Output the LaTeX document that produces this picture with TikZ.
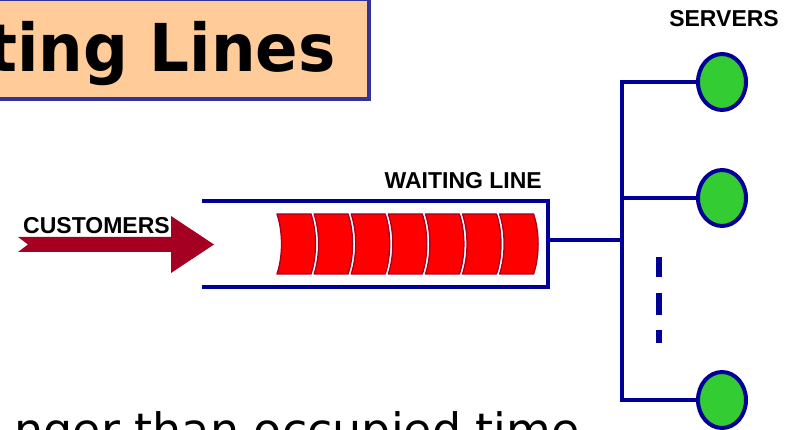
\documentclass[tikz,border=0pt]{standalone}
\usepackage{fontspec}
\newfontfamily\labfont{Liberation Sans}
\newfontfamily\dvfont{DejaVu Sans}
\usetikzlibrary{shapes.geometric}
\definecolor{qblue}{HTML}{000099}
\definecolor{tblue}{HTML}{333399}
\definecolor{peach}{HTML}{FFCC99}
\definecolor{darkred}{HTML}{A50021}
\definecolor{sgreen}{HTML}{33CC33}
\tikzset{
  lab/.style={inner sep=0pt, font=\labfont\bfseries\fontsize{23}{23}\selectfont},
  wire/.style={draw=qblue, line width=4pt},
  server/.style={ellipse, draw=qblue, line width=4pt, fill=sgreen, minimum width=48pt, minimum height=56pt, inner sep=0pt},
  cell/.style={fill=red, draw=darkred, line width=1.3pt, line join=round},
  dashseg/.style={draw=qblue, line width=5.5pt}
}
\begin{document}
\begin{tikzpicture}[x=1pt,y=-1pt]
\useasboundingbox (0,0) rectangle (792,430);
\begin{scope}
\clip (0,0) rectangle (792,430);
% title
\draw[fill=peach, draw=tblue, line width=4pt] (-20,-1) rectangle (368.5,99);
\node[inner sep=0pt, anchor=base east, font=\dvfont\bfseries\fontsize{66}{66}\selectfont] (title) at (336,72) {\scalebox{0.95}[1]{ting Lines}};
% bottom text
\node[inner sep=0pt, anchor=base east, font=\dvfont\fontsize{46}{46}\selectfont] (bottom) at (580,446) {nger than occupied time};
\end{scope}
% customers arrow
\fill[darkred] (18,237) -- (171,237) -- (171,216) -- (214,244.5) -- (171,273) -- (171,252) -- (18,252) -- (28,244.5) -- cycle;
\node[lab, anchor=base west] (cust) at (23,234) {CUSTOMERS};
% waiting line box
\coordinate (qtl) at (202,201);
\coordinate (qtr) at (548,201);
\coordinate (qbr) at (548,287);
\coordinate (qbl) at (202,287);
\coordinate (qout) at (548,240);
\draw[wire, line join=miter] (qtl) -- (qtr) -- (qbr) -- (qbl);
\node[lab, anchor=base east] (wl) at (542,189) {WAITING LINE};
% cells
\foreach \i in {0,...,6}{
  \pgfmathsetmacro{\xa}{277+37.1*\i}
  \draw[cell] (\xa,214) -- (\xa+34,214) .. controls (\xa+40,232) and (\xa+40,256) .. (\xa+34,274) -- (\xa,274) .. controls (\xa+6,256) and (\xa+6,232) .. (\xa,214) -- cycle;
}
% servers
\node[server] (s1) at (722,82) {};
\node[server] (s2) at (722,198) {};
\node[server] (s3) at (722,400) {};
\node[lab, anchor=base east] (srv) at (779,27) {SERVERS};
\coordinate (bus) at (622,240);
\coordinate (b1) at (622,82);
\coordinate (b2) at (622,198);
\coordinate (b3) at (622,400);
\draw[wire] (qout) -- (bus);
\draw[wire, line join=miter] (s1.west) -- (b1) -- (b3) -- (s3.west);
\draw[wire] (b2) -- (s2.west);
% dashes
\draw[dashseg] (659,257) -- (659,277);
\draw[dashseg] (659,293) -- (659,315);
\draw[dashseg] (659,330) -- (659,343);
\end{tikzpicture}
\end{document}
